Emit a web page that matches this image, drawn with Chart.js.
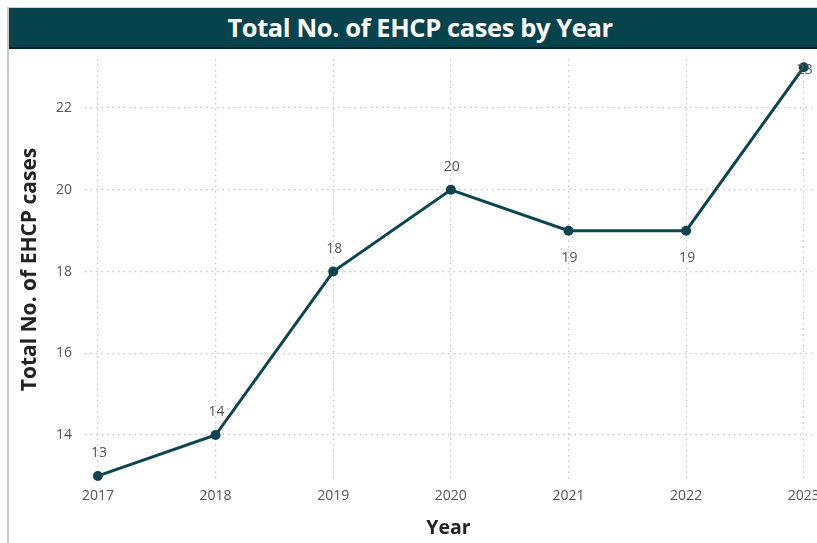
<!DOCTYPE html>
<html>
<head>
<meta charset="utf-8">
<script src="https://cdn.jsdelivr.net/npm/chart.js@4"></script>
<style>
  html, body { margin: 0; padding: 0; background: #fff; }
  body { width: 817px; height: 543px; overflow: hidden; position: relative; font-family: "Open Sans", sans-serif; }
  #frame { position: absolute; left: 7px; top: 7px; width: 810px; height: 536px;
           border-left: 2px solid #c9c9c9; border-top: 1px solid #d0d0d0; box-sizing: border-box; }
  #banner { height: 41px; background: #07434d; border-bottom: 2px solid #06252b; box-sizing: border-box;
            color: #fff; font: bold 25.5px "Open Sans", sans-serif; text-align: center; line-height: 38px;
            padding-left: 14px; letter-spacing: -0.4px; }
  #wrap { position: absolute; left: 0; top: 41px; width: 808px; height: 494px; }
</style>
</head>
<body>
<div id="frame">
  <div id="banner">Total No. of EHCP cases by Year</div>
  <div id="wrap"><canvas id="chart"></canvas></div>
</div>
<script>
// values
const years = [2017, 2018, 2019, 2020, 2021, 2022, 2023];
const cases = [13, 14, 18, 20, 19, 19, 23];
const yTicks = [14, 16, 18, 20, 22];
// label placement: above the point unless noted
const labelPos = ['above', 'above', 'above', 'above', 'below', 'below', 'on'];

const teal = '#0b4650';
const tickColor = '#555555';
const font = '"Open Sans", sans-serif';

const pointLabels = {
  id: 'pointLabels',
  afterDatasetsDraw(chart) {
    const { ctx } = chart;
    const meta = chart.getDatasetMeta(0);
    ctx.save();
    ctx.font = '14px ' + font;
    ctx.fillStyle = tickColor;
    ctx.textAlign = 'center';
    ctx.textBaseline = 'middle';
    meta.data.forEach((pt, i) => {
      let dy = -23;
      if (labelPos[i] === 'below') dy = 27;
      if (labelPos[i] === 'on') dy = 3;
      ctx.fillText(String(cases[i]), pt.x + 1, pt.y + dy);
    });
    ctx.restore();
  }
};

const noPad = s => { s.paddingLeft = 0; s.paddingRight = 0; s.paddingTop = 0; s.paddingBottom = 0; };

new Chart(document.getElementById('chart'), {
  type: 'line',
  data: {
    datasets: [{
      data: years.map((y, i) => ({ x: y, y: cases[i] })),
      borderColor: teal,
      backgroundColor: teal,
      borderWidth: 3,
      pointRadius: 5,
      pointBackgroundColor: teal,
      pointBorderWidth: 0,
      tension: 0
    }]
  },
  options: {
    responsive: true,
    maintainAspectRatio: false,
    animation: false,
    clip: false,
    layout: { padding: { top: 10, right: 0, left: 0, bottom: 0 } },
    plugins: { legend: { display: false }, tooltip: { enabled: false } },
    scales: {
      x: {
        type: 'linear',
        min: 2016.89,
        max: 2023.07,
        afterBuildTicks: s => { s.ticks = years.map(v => ({ value: v })); },
        afterFit: s => { s.height = 63; noPad(s); },
        border: { display: false, dash: [1.5, 4] },
        grid: { color: '#c4c4c4', lineWidth: 1.2, drawTicks: false },
        ticks: { color: tickColor, padding: 8, font: { size: 14, family: font },
                 callback: v => String(v), maxRotation: 0, autoSkip: false },
        title: { display: true, text: 'Year', color: '#222',
                 font: { size: 19.5, weight: 'bold', family: font }, padding: { top: 0, bottom: 3 } }
      },
      y: {
        min: 12.9,
        max: 23.2,
        afterBuildTicks: s => { s.ticks = yTicks.map(v => ({ value: v })); },
        afterFit: s => { s.width = 76; noPad(s); },
        border: { display: false, dash: [1.5, 4] },
        grid: { color: '#c4c4c4', lineWidth: 1.2, drawTicks: false },
        ticks: { color: tickColor, padding: 13, font: { size: 14, family: font } },
        title: { display: true, text: 'Total No. of EHCP cases', color: '#222',
                 font: { size: 21, weight: 'bold', family: font }, padding: { top: 8, bottom: 0 } }
      }
    }
  },
  plugins: [pointLabels]
});
</script>
</body>
</html>
